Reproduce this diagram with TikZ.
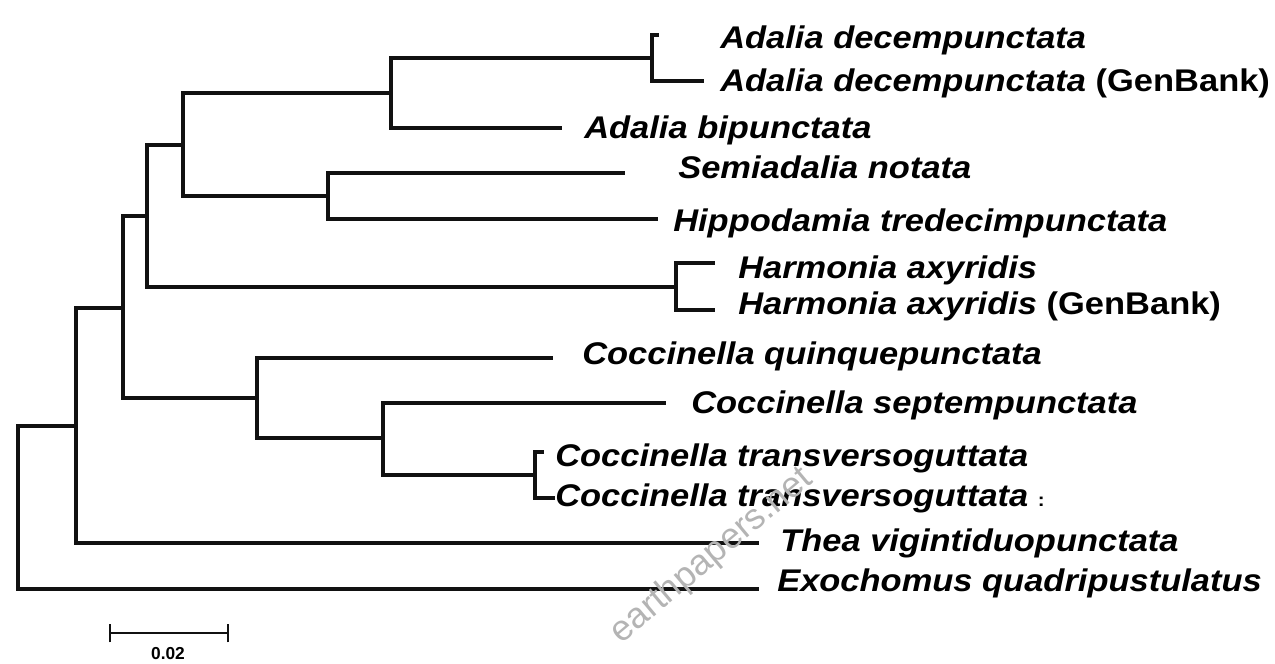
\documentclass[tikz,border=0pt]{standalone}
\usepackage{fontspec}
\usepackage{tikz}
\newfontfamily\taxonfamily[FakeStretch=1.1]{Liberation Sans}
\newfontfamily\markfamily{Liberation Sans}
\definecolor{Branch}{HTML}{111111}
\definecolor{Watermark}{HTML}{B4B4B4}
\newcommand{\taxonfont}{\taxonfamily\fontsize{23.5}{28}\selectfont\bfseries\itshape}
\newcommand{\genbank}{{\upshape\ (GenBank)}}
\tikzset{
  branch/.style={draw=Branch, line width=2.5pt, line cap=rect},
  taxon/.style={anchor=base west, inner sep=0pt, font=\taxonfont},
}

\begin{document}
\begin{tikzpicture}[x=0.75pt,y=-0.75pt]
  \useasboundingbox (0,0) rectangle (1275,664);

  %% internal nodes
  \coordinate (root)  at (18,508);
  \coordinate (nA)    at (76,426);
  \coordinate (nB)    at (123,308);
  \coordinate (nC)    at (147,216);
  \coordinate (nD)    at (183,145);
  \coordinate (nAdal) at (391,93);
  \coordinate (nDec)  at (652,58);
  \coordinate (nSemi) at (328,196);
  \coordinate (nHarm) at (676,287);
  \coordinate (nCocc) at (257,398);
  \coordinate (nSept) at (383,438);
  \coordinate (nTran) at (535,475);

  %% tips
  \coordinate (tDec)   at (657,35);
  \coordinate (tDecGB) at (702,81);
  \coordinate (tBip)   at (560,128);
  \coordinate (tSemi)  at (623,173);
  \coordinate (tHipp)  at (656,219);
  \coordinate (tHarm)  at (713,263);
  \coordinate (tHarmGB) at (713,310);
  \coordinate (tQuin)  at (551,358);
  \coordinate (tSept)  at (664,403);
  \coordinate (tTran)  at (542,452);
  \coordinate (tTranB) at (553,498);
  \coordinate (tThea)  at (757,543);
  \coordinate (tExo)   at (757,589);

  %% branches
  \draw[branch] (root) |- (nA);
  \draw[branch] (root) |- (tExo);
  \draw[branch] (nA) |- (nB);
  \draw[branch] (nA) |- (tThea);
  \draw[branch] (nB) |- (nC);
  \draw[branch] (nB) |- (nCocc);
  \draw[branch] (nC) |- (nD);
  \draw[branch] (nC) |- (nHarm);
  \draw[branch] (nD) |- (nAdal);
  \draw[branch] (nD) |- (nSemi);
  \draw[branch] (nAdal) |- (nDec);
  \draw[branch] (nAdal) |- (tBip);
  \draw[branch] (nDec) |- (tDec);
  \draw[branch] (nDec) |- (tDecGB);
  \draw[branch] (nSemi) |- (tSemi);
  \draw[branch] (nSemi) |- (tHipp);
  \draw[branch] (nHarm) |- (tHarm);
  \draw[branch] (nHarm) |- (tHarmGB);
  \draw[branch] (nCocc) |- (tQuin);
  \draw[branch] (nCocc) |- (nSept);
  \draw[branch] (nSept) |- (tSept);
  \draw[branch] (nSept) |- (nTran);
  \draw[branch] (nTran) |- (tTran);
  \draw[branch] (nTran) |- (tTranB);

  %% taxa
  \node[taxon] (lDec)    at (720,48)  {Adalia decempunctata};
  \node[taxon] (lDecGB)  at (720,91)  {Adalia decempunctata\genbank};
  \node[taxon] (lBip)    at (584,138) {Adalia bipunctata};
  \node[taxon] (lSemi)   at (678,178) {Semiadalia notata};
  \node[taxon] (lHipp)   at (673,231) {Hippodamia tredecimpunctata};
  \node[taxon] (lHarm)   at (738,278) {Harmonia axyridis};
  \node[taxon] (lHarmGB) at (738,314) {Harmonia axyridis\genbank};
  \node[taxon] (lQuin)   at (582,364) {Coccinella quinquepunctata};
  \node[taxon] (lSept)   at (691,413) {Coccinella septempunctata};
  \node[taxon] (lTran)   at (555,466) {Coccinella transversoguttata};
  \node[taxon] (lTranB)  at (555,506) {Coccinella transversoguttata {\upshape\fontsize{14}{14}\selectfont:}};
  \node[taxon] (lThea)   at (780,551) {Thea vigintiduopunctata};
  \node[taxon] (lExo)    at (777,591) {Exochomus quadripustulatus};

  %% scale bar
  \coordinate (sbL) at (110,633);
  \coordinate (sbR) at (228,633);
  \draw[branch, line width=1.6pt, line cap=butt] (sbL) -- (sbR);
  \draw[branch, line width=1.6pt, line cap=butt] ([yshift=-7]sbL) -- ([yshift=7]sbL);
  \draw[branch, line width=1.6pt, line cap=butt] ([yshift=-7]sbR) -- ([yshift=7]sbR);
  \node[font=\markfamily\fontsize{13}{13}\selectfont\bfseries] (sbText) at (168,654) {0.02};

  %% watermark
  \node[rotate=40, text=Watermark, font=\markfamily\fontsize{27}{30}\selectfont] (mark) at (712,556) {earthpapers.net};
\end{tikzpicture}
\end{document}
